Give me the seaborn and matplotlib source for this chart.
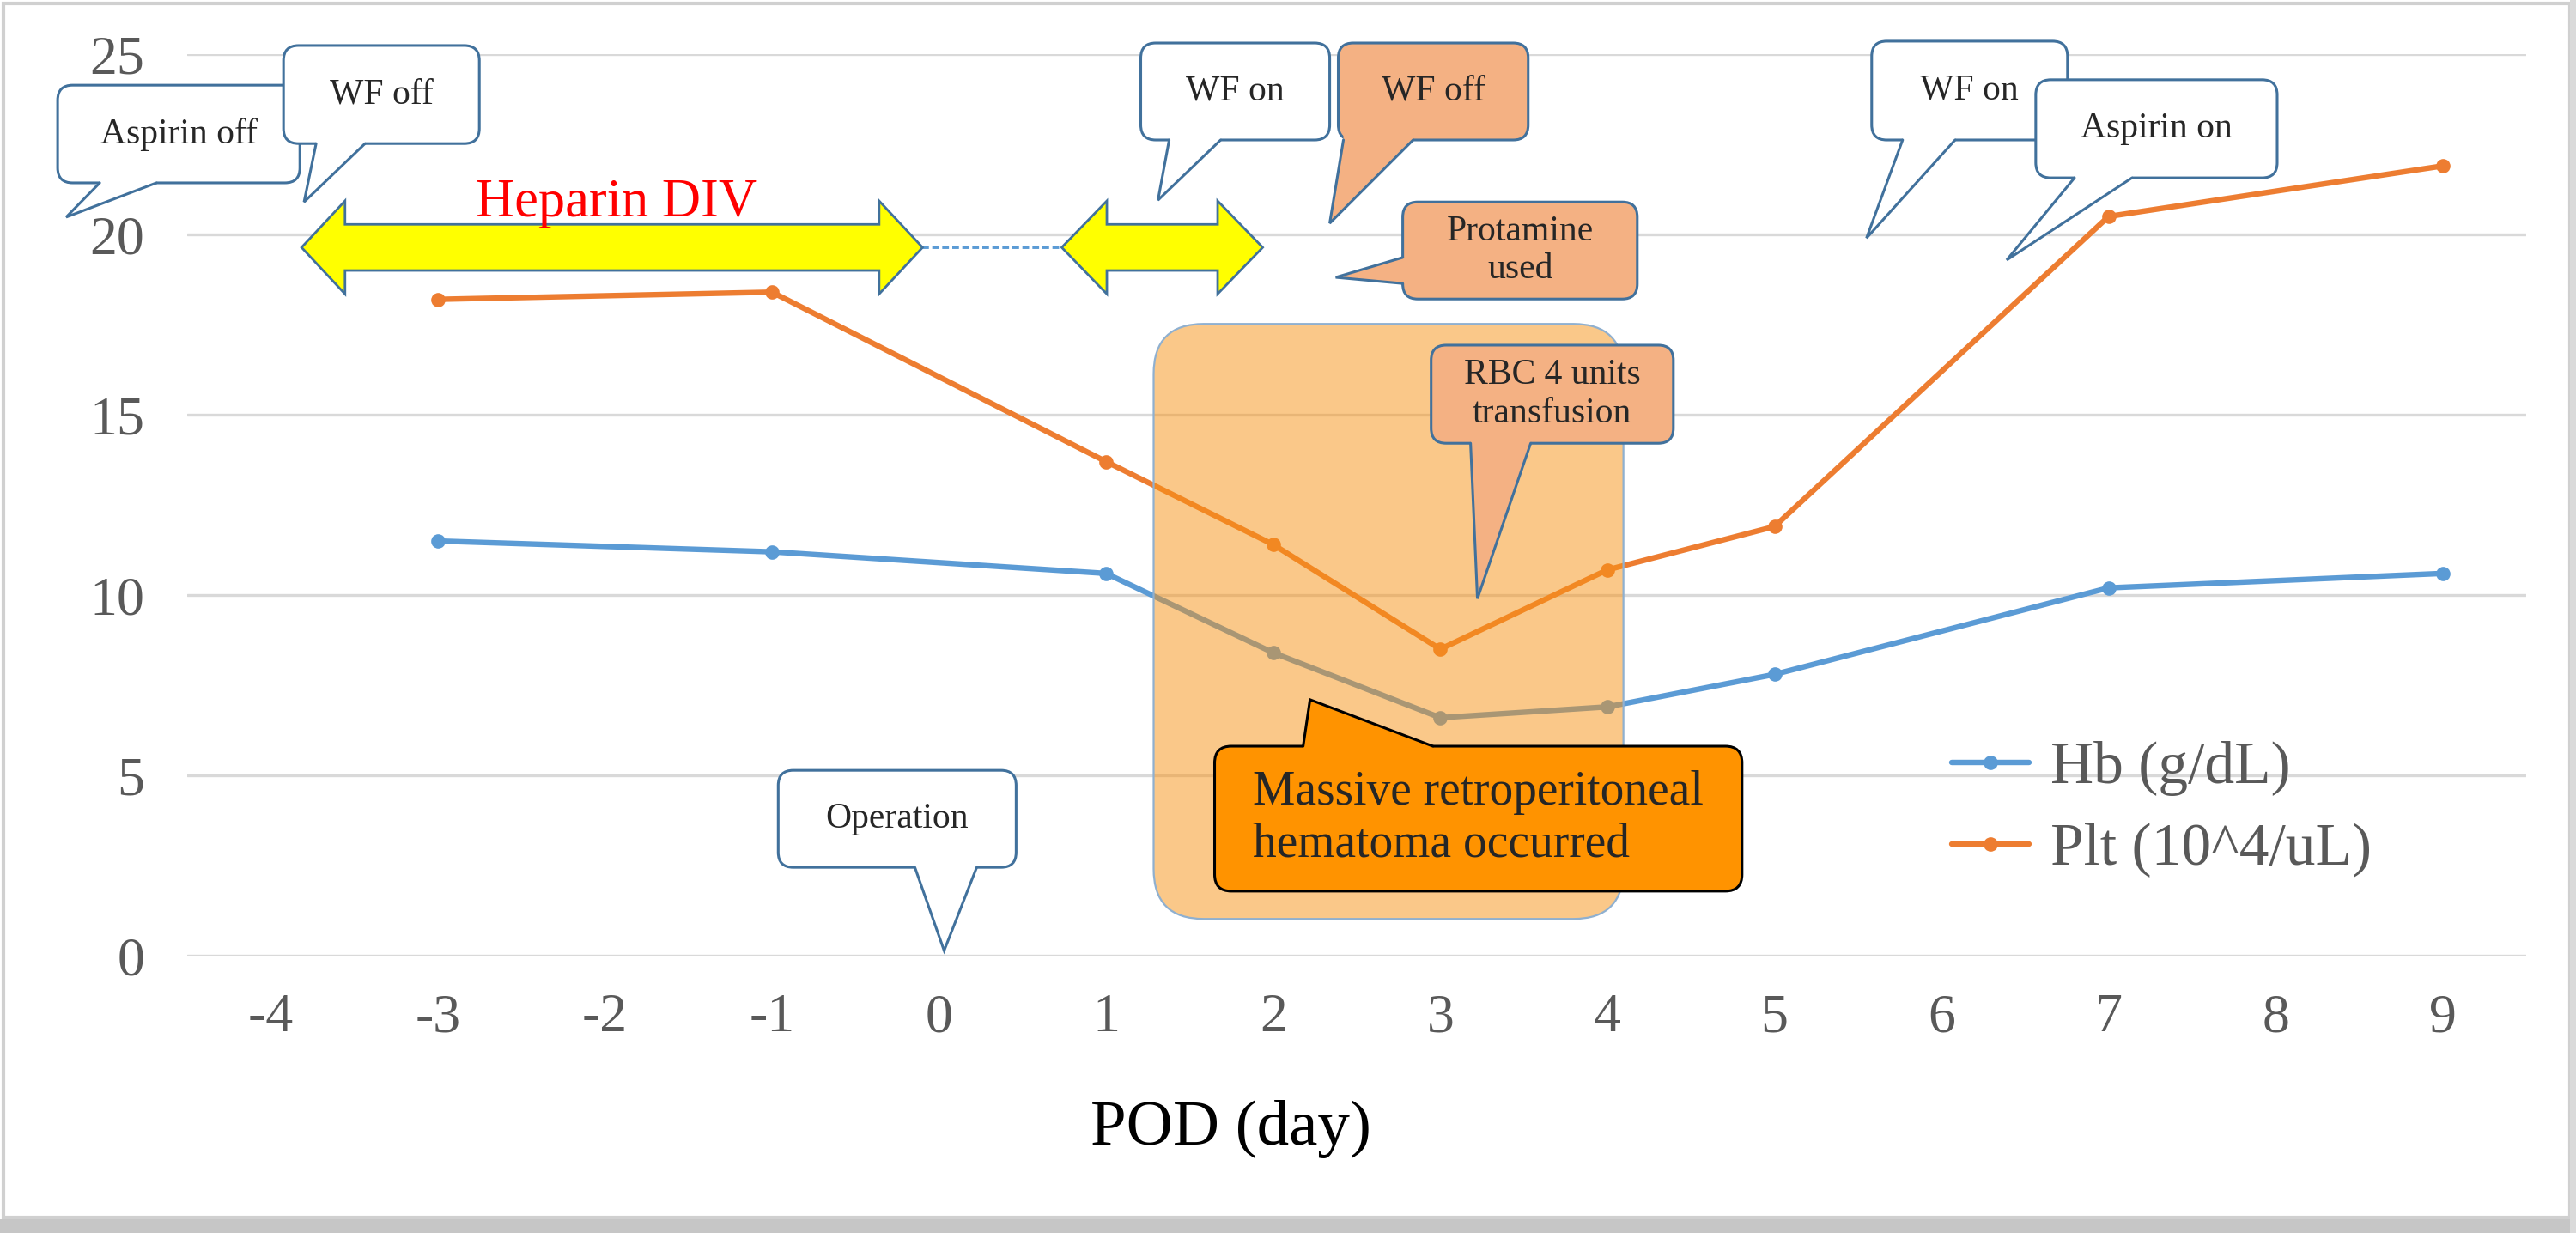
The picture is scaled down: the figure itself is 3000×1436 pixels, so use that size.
import matplotlib
matplotlib.use("Agg")
import matplotlib.pyplot as plt
import matplotlib.colors as mcolors
import pandas as pd
import seaborn as sns
from matplotlib.patches import FancyBboxPatch, Polygon, Rectangle

# x axis categories (post-operative day)
pod_labels = ["-4", "-3", "-2", "-1", "0", "1", "2", "3", "4", "5", "6", "7", "8", "9"]

# measured days and values
days = ["-3", "-1", "1", "2", "3", "4", "5", "7", "9"]
hb = [11.5, 11.2, 10.6, 8.4, 6.6, 6.9, 7.8, 10.2, 10.6]
platelets = [18.2, 18.4, 13.7, 11.4, 8.5, 10.7, 11.9, 20.5, 21.9]

hb_label = "Hb (g/dL)"
plt_label = "Plt (10^4/uL)"

HB_COLOR = "#5B9BD5"
PLT_COLOR = "#ED7D31"
EDGE_BLUE = "#41719C"
LIGHT_ORANGE = "#F4B183"

df = pd.DataFrame({"pos": [pod_labels.index(d) for d in days], "hb": hb, "plt": platelets})

sns.set_theme(style="white")
plt.rcParams["font.family"] = ["Liberation Serif", "DejaVu Serif"]

fig = plt.figure(figsize=(15, 7.18), dpi=200)
ax = fig.add_axes([0.0727, 0.2249, 0.908, 0.7312])

sns.lineplot(data=df, x="pos", y="hb", color=HB_COLOR, marker="o", markersize=6,
             markeredgewidth=0, lw=2.3, label=hb_label, ax=ax, zorder=2)
sns.lineplot(data=df, x="pos", y="plt", color=PLT_COLOR, marker="o", markersize=6,
             markeredgewidth=0, lw=2.3, label=plt_label, ax=ax, zorder=2)

ax.set_xlim(-0.5, 13.5)
ax.set_ylim(0, 25)
ax.set_xticks(range(len(pod_labels)))
ax.set_xticklabels(pod_labels)
ax.set_yticks(range(0, 26, 5))
ax.grid(axis="y", color="#D9D9D9", lw=1.2)
ax.grid(axis="x", visible=False)
ax.set_axisbelow(True)
for s in ax.spines.values():
    s.set_visible(False)
ax.tick_params(axis="both", length=0, labelsize=23, labelcolor="#595959")
ax.tick_params(axis="x", pad=16)
ax.tick_params(axis="y", pad=18)
ax.set_ylabel("")
ax.set_xlabel("POD (day)", fontsize=27, color="black")
ax.xaxis.set_label_coords(0.446, -0.16)

leg = ax.legend(loc="upper left", bbox_to_anchor=(0.7544, 0.238), frameon=False,
                fontsize=25, handlelength=1.3, handletextpad=0.35, labelspacing=0.45,
                borderpad=0, borderaxespad=0, labelcolor="#595959")

# ratio of pixel size of one x unit to one y unit, to keep corners round
ASPECT = 194.5 / 42


def rounded_box(x0, x1, y0, y1, r, **kw):
    p = FancyBboxPatch((x0, y0), x1 - x0, y1 - y0,
                       boxstyle=f"round,pad=0,rounding_size={r}",
                       mutation_aspect=ASPECT, clip_on=False, **kw)
    ax.add_patch(p)
    return p


# hematoma period shading (drawn over the lines, semi transparent)
rounded_box(5.284, 8.096, 1.02, 17.52, 0.3, fc=mcolors.to_rgba("#F79315", 0.5),
            ec="#8FB0D0", lw=0.8, zorder=3)


def double_arrow(xl, xr, yc, head, shaft=0.64, half=1.29):
    pts = [(xl, yc), (xl + head, yc + half), (xl + head, yc + shaft), (xr - head, yc + shaft),
           (xr - head, yc + half), (xr, yc), (xr - head, yc - half), (xr - head, yc - shaft),
           (xl + head, yc - shaft), (xl + head, yc - half)]
    ax.add_patch(Polygon(pts, closed=True, fc="#FFFF00", ec=EDGE_BLUE, lw=1.0,
                         clip_on=False, zorder=4))


# heparin infusion periods
double_arrow(0.184, 3.901, 19.64, 0.26)
double_arrow(4.734, 5.937, 19.64, 0.27)
ax.plot([3.90, 4.73], [19.64, 19.64], color=HB_COLOR, lw=1.4, ls=(0, (2, 1)), zorder=3.5)
ax.text(2.07, 20.5, "Heparin DIV", color="#FF0000", fontsize=22.5, ha="center",
        va="baseline", zorder=6)


def callout(box, tail, side, text, face="white", edge=EDGE_BLUE, fs=15, z=5, lw=1.1, r=0.09,
            align="center"):
    x0, x1, y0, y1 = box
    rounded_box(x0, x1, y0, y1, r, fc=face, ec=edge, lw=lw, zorder=z)
    b1, tip, b2 = tail
    if side == "bottom":
        b1, b2 = (b1, y0), (b2, y0)
        inner = (0, 0.15)
    elif side == "top":
        b1, b2 = (b1, y1), (b2, y1)
        inner = (0, -0.15)
    else:
        b1, b2 = (x0, b1), (x0, b2)
        inner = (0.04, 0)
    fill = [(b1[0] + inner[0], b1[1] + inner[1]), b1, tip, b2,
            (b2[0] + inner[0], b2[1] + inner[1])]
    ax.add_patch(Polygon(fill, closed=True, fc=face, ec="none", clip_on=False, zorder=z + 0.01))
    ax.plot([b1[0], tip[0], b2[0]], [b1[1], tip[1], b2[1]], color=edge, lw=lw,
            solid_joinstyle="miter", clip_on=False, zorder=z + 0.02)
    ax.text((x0 + x1) / 2, (y0 + y1) / 2, text, ha="center", va="center", fontsize=fs,
            linespacing=1.2, multialignment=align, clip_on=False, zorder=z + 0.03)


callout((-1.276, 0.174, 21.43, 24.14), (-1.024, (-1.225, 20.48), -0.685), "bottom", "Aspirin off", z=5)
callout((0.076, 1.248, 22.52, 25.24), (0.271, (0.199, 20.90), 0.564), "bottom", "WF off", z=5.1)
callout((5.207, 6.338, 22.62, 25.31), (5.377, (5.310, 20.95), 5.685), "bottom", "WF on", z=5)
callout((6.389, 7.526, 22.62, 25.31), (6.42, (6.338, 20.31), 6.837), "bottom", "WF off",
        face=LIGHT_ORANGE, z=5.1)
callout((6.775, 8.179, 18.21, 20.90), (19.36, (6.374, 18.81), 18.64), "left", "Protamine\nused",
        face=LIGHT_ORANGE, z=5)
callout((9.582, 10.754, 22.62, 25.36), (9.767, (9.551, 19.90), 10.081), "bottom", "WF on", z=5)
callout((10.564, 12.009, 21.57, 24.29), (10.796, (10.39, 19.29), 11.140), "bottom", "Aspirin on", z=5.1)
callout((3.037, 4.461, 2.45, 5.14), (3.855, (4.03, 0.14), 4.225), "bottom", "Operation", z=5)
callout((6.945, 8.395, 14.21, 16.93), (7.181, (7.222, 9.90), 7.541), "bottom", "RBC 4 units\ntransfusion",
        face=LIGHT_ORANGE, z=5)
callout((5.649, 8.806, 1.79, 5.81), (6.179, (6.22, 7.10), 6.955), "top",
        "Massive retroperitoneal\nhematoma occurred", face="#FF9300", edge="black", fs=20, z=5.2,
        r=0.1, align="left")

# picture frame with a light shadow
fig.add_artist(Rectangle((4 / 3000, 18 / 1436), 2989 / 3000, 1414 / 1436, transform=fig.transFigure,
                         fill=False, ec="#D0D0D0", lw=1.5))
fig.add_artist(Rectangle((0, 0), 1, 16 / 1436, transform=fig.transFigure, fc="#C6C6C6", ec="none"))
fig.add_artist(Rectangle((2993 / 3000, 0), 7 / 3000, 1, transform=fig.transFigure, fc="#DADADA",
                         ec="none"))

fig.savefig("out.png", dpi=200)
